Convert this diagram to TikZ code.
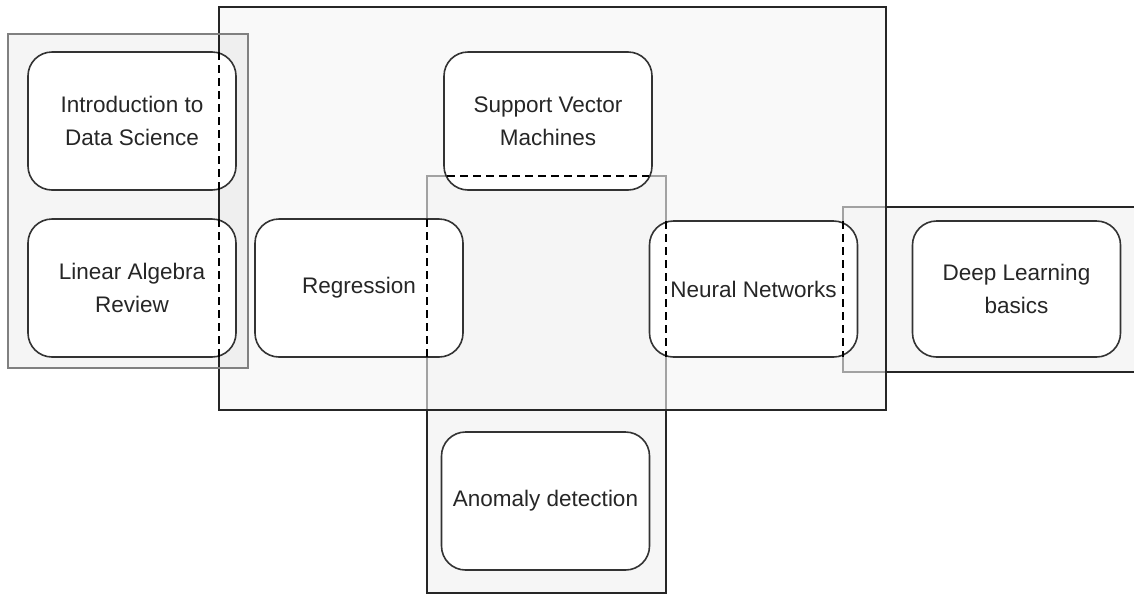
\documentclass[tikz,border=0pt]{standalone}
\usepackage{fontspec}
\setmainfont{Liberation Sans}
\usepackage{tikz}

\begin{document}
\begin{tikzpicture}[
    x=1pt, y=-1pt,
    topic/.style={draw=black!80, line width=1.6pt, fill=white, rounded corners=24pt, outer sep=0pt,
        minimum width=208pt, minimum height=138pt, align=center, text=black!85,
        font=\fontsize{22.5}{33}\selectfont},
    group/.style={draw=black!85, line width=1.6pt, fill=gray!7, outer sep=0pt, inner sep=0pt},
    cut/.style={line width=1.6pt, dash pattern=on 8pt off 5pt}
]
    \useasboundingbox (0,0) rectangle (1134,595);
    \clip (0,0) rectangle (1134,595);

    % Groups under the core block
    \node[group, minimum width=239pt, minimum height=417pt] (unsup) at (546.5, 384.5) {};
    \node[group, minimum width=297pt, minimum height=165pt] (ext) at (991.5, 289.5) {};

    % Core block
    \node[group, fill=gray!8, fill opacity=0.6, minimum width=667pt, minimum height=403pt] (core) at (552.5, 208.5) {};

    % Prerequisites
    \node[group, draw=gray, line width=1.3pt, fill=black, fill opacity=0.04,
        minimum width=240pt, minimum height=334pt] (prep) at (128, 201) {};

    % Topics
    \node[topic] (intro) at (132, 121) {Introduction to\\Data Science};
    \node[topic] (linalg) at (132, 288) {Linear Algebra\\Review};
    \node[topic] (regr) at (359, 288) {Regression};
    \node[topic] (svm) at (548, 121) {Support Vector\\Machines};
    \node[topic, minimum height=136pt] (neural) at (753.5, 289) {Neural Networks};
    \node[topic, minimum height=136pt] (deep) at (1016.5, 289) {Deep Learning\\basics};
    \node[topic] (anomaly) at (545.5, 501) {Anomaly detection};

    % Group borders running through the topics
    \draw[cut] (intro.north -| core.west) -- (intro.south -| core.west);
    \draw[cut] (linalg.north -| core.west) -- (linalg.south -| core.west);
    \draw[cut, shorten <=3pt, shorten >=3pt] (svm.west |- unsup.north) -- (svm.east |- unsup.north);
    \draw[cut] (regr.north -| unsup.west) -- (regr.south -| unsup.west);
    \draw[cut] (neural.north -| unsup.east) -- (neural.south -| unsup.east);
    \draw[cut] (neural.north -| ext.west) -- (neural.south -| ext.west);

\end{tikzpicture}
\end{document}
